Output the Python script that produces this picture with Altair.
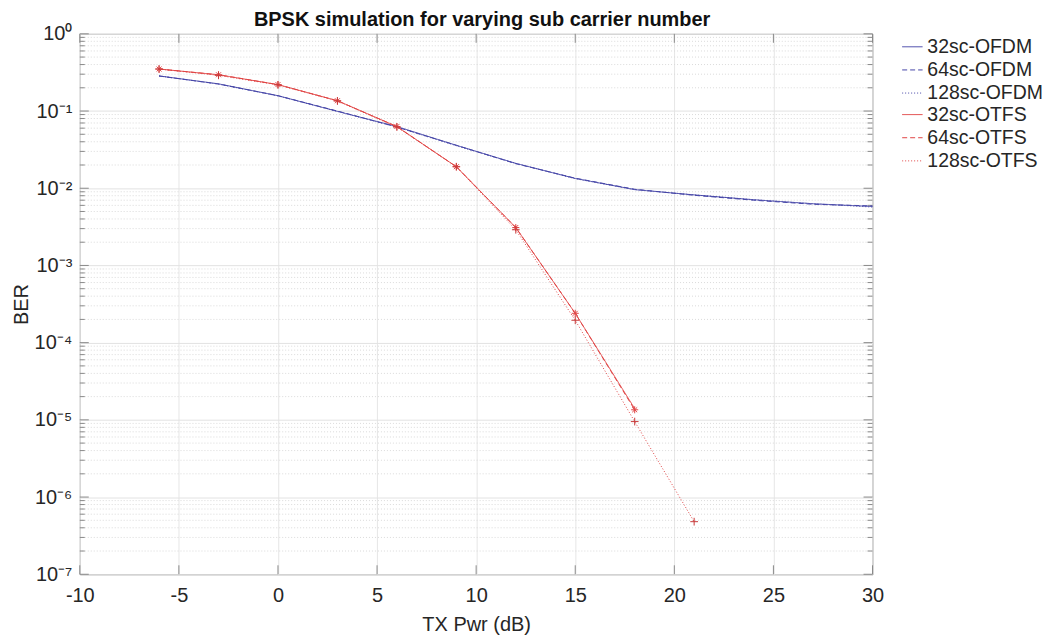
import altair as alt
import pandas as pd

# ---- data ----
snr_ofdm = [-6, -3, 0, 3, 6, 9, 12, 15, 18, 21, 24, 27, 30]
ber_ofdm32 = [0.285, 0.225, 0.158, 0.099, 0.063, 0.036, 0.021, 0.0134, 0.0096, 0.0082, 0.0071, 0.0063, 0.0058]
ber_ofdm64 = [0.284, 0.224, 0.158, 0.100, 0.062, 0.036, 0.0208, 0.0135, 0.0097, 0.0081, 0.0070, 0.0062, 0.0059]
ber_ofdm128 = [0.285, 0.223, 0.157, 0.099, 0.062, 0.0355, 0.021, 0.0133, 0.0096, 0.0082, 0.0071, 0.0063, 0.0057]

snr_otfs32 = [-6, -3, 0, 3, 6, 9, 12, 15, 18]
ber_otfs32 = [0.35, 0.295, 0.22, 0.136, 0.063, 0.019, 0.0031, 0.00024, 1.4e-5]
snr_otfs64 = [-6, -3, 0, 3, 6, 9, 12, 15, 18]
ber_otfs64 = [0.35, 0.295, 0.22, 0.136, 0.063, 0.019, 0.0031, 0.00024, 1.35e-5]
snr_otfs128 = [-6, -3, 0, 3, 6, 9, 12, 15, 18, 21]
ber_otfs128 = [0.35, 0.29, 0.218, 0.135, 0.062, 0.019, 0.0029, 0.000195, 9.5e-6, 4.8e-7]

ofdm_names = ["32sc-OFDM", "64sc-OFDM", "128sc-OFDM"]
otfs_names = ["32sc-OTFS", "64sc-OTFS", "128sc-OTFS"]
line_dashes = [[1, 0], [5, 3], [1, 2]]
BLUE = "#4646a8"
RED = "#e04444"
GRAY = "#8a8a8a"

x_ticks = [-10, -5, 0, 5, 10, 15, 20, 25, 30]
y_major = [1e-7, 1e-6, 1e-5, 1e-4, 1e-3, 1e-2, 1e-1, 1]
y_minor = [m * 10.0 ** e for e in range(-7, 0) for m in range(2, 10)]

def frame(names, xs_list, ys_list):
    rows = []
    for name, xs, ys in zip(names, xs_list, ys_list):
        for x, y in zip(xs, ys):
            rows.append({"series": name, "snr": x, "ber": y})
    return pd.DataFrame(rows)

ofdm_df = frame(ofdm_names, [snr_ofdm] * 3, [ber_ofdm32, ber_ofdm64, ber_ofdm128])
otfs_df = frame(otfs_names, [snr_otfs32, snr_otfs64, snr_otfs128], [ber_otfs32, ber_otfs64, ber_otfs128])
minor_df = pd.DataFrame({"v": y_minor})
major_df = pd.DataFrame({"v": y_major})
xt_df = pd.DataFrame({"t": x_ticks})

FONT = "Liberation Sans"
W, H = 795, 542
xscale = alt.Scale(domain=[-10, 30], nice=False, zero=False)
yscale = alt.Scale(type="log", domain=[1e-7, 1], nice=False)

sup = "['\u2070','\u207b\u00b9','\u207b\u00b2','\u207b\u00b3','\u207b\u2074','\u207b\u2075','\u207b\u2076','\u207b\u2077']"
y_label_expr = "'10' + " + sup + "[round(-log(datum.value)/LN10)]"
x_label_expr = "datum.value < 0 ? '-' + abs(datum.value) : '' + datum.value"

x_axis = alt.Axis(values=x_ticks, labelExpr=x_label_expr, title="TX Pwr (dB)", labelFontSize=20,
                  titleFontSize=20, titleFontWeight="normal", labelColor="#262626",
                  titleColor="#262626", domain=False, ticks=False, tickSize=0, labelFlush=False,
                  grid=True, gridColor="#e6e6e6", labelPadding=11, titlePadding=9)
y_axis = alt.Axis(values=y_major, labelExpr=y_label_expr, title="BER", labelFontSize=20,
                  titleFontSize=20, titleFontWeight="normal", labelColor="#262626",
                  titleColor="#262626", domain=False, ticks=False, tickSize=0, labelFlush=False,
                  grid=True, gridColor="#e2e2e2", labelPadding=8, titlePadding=3)

# minor (dotted) horizontal grid
minor_grid = alt.Chart(minor_df).mark_rule(color="#dadada", strokeDash=[1, 2], strokeWidth=1).encode(
    y=alt.Y("v:Q", scale=yscale, axis=y_axis),
)

# inward ticks (MATLAB style) on all four sides
minor_ticks_l = alt.Chart(minor_df).mark_rule(color=GRAY).encode(
    y=alt.Y("v:Q", scale=yscale), x=alt.value(0), x2=alt.value(5))
minor_ticks_r = alt.Chart(minor_df).mark_rule(color=GRAY).encode(
    y=alt.Y("v:Q", scale=yscale), x=alt.value(W - 5), x2=alt.value(W))
major_ticks_l = alt.Chart(major_df).mark_rule(color=GRAY).encode(
    y=alt.Y("v:Q", scale=yscale), x=alt.value(0), x2=alt.value(9))
major_ticks_r = alt.Chart(major_df).mark_rule(color=GRAY).encode(
    y=alt.Y("v:Q", scale=yscale), x=alt.value(W - 9), x2=alt.value(W))
x_ticks_b = alt.Chart(xt_df).mark_rule(color=GRAY).encode(
    x=alt.X("t:Q", scale=xscale, axis=x_axis), y=alt.value(H - 9), y2=alt.value(H))
x_ticks_t = alt.Chart(xt_df).mark_rule(color=GRAY).encode(
    x=alt.X("t:Q", scale=xscale), y=alt.value(0), y2=alt.value(9))

def legend(names, color, y0):
    return alt.Legend(title=None, orient="none", legendX=824, legendY=y0, padding=0,
                      labelFontSize=19.5, labelColor="#262626", labelFont=FONT,
                      symbolType="stroke", symbolSize=420, symbolStrokeWidth=1,
                      symbolStrokeColor=color, rowPadding=2.2, labelOffset=4, values=names)

ofdm_lines = alt.Chart(ofdm_df).mark_line(strokeWidth=1, color=BLUE).encode(
    x=alt.X("snr:Q", scale=xscale),
    y=alt.Y("ber:Q", scale=yscale),
    strokeDash=alt.StrokeDash("series:N", scale=alt.Scale(domain=ofdm_names, range=line_dashes),
                              legend=legend(ofdm_names, BLUE, 2)),
    detail="series:N",
    order=alt.Order("snr:Q"),
)

otfs_lines = alt.Chart(otfs_df).mark_line(strokeWidth=1, color=RED).encode(
    x=alt.X("snr:Q", scale=xscale),
    y=alt.Y("ber:Q", scale=yscale),
    strokeDash=alt.StrokeDash("series:N", scale=alt.Scale(domain=otfs_names, range=line_dashes),
                              legend=legend(otfs_names, RED, 70)),
    detail="series:N",
    order=alt.Order("snr:Q"),
)

asterisk = "M-1,0L1,0M0,-1L0,1M-0.7,-0.7L0.7,0.7M-0.7,0.7L0.7,-0.7"
plus = "M-1,0L1,0M0,-1L0,1"

pts64 = alt.Chart(otfs_df[otfs_df.series == "64sc-OTFS"]).mark_point(
    shape=asterisk, filled=False, size=50, strokeWidth=1, color=RED, opacity=1
).encode(x=alt.X("snr:Q", scale=xscale), y=alt.Y("ber:Q", scale=yscale))

pts128 = alt.Chart(otfs_df[otfs_df.series == "128sc-OTFS"]).mark_point(
    shape=plus, filled=False, size=60, strokeWidth=1, color="#c83a3a", opacity=1
).encode(x=alt.X("snr:Q", scale=xscale), y=alt.Y("ber:Q", scale=yscale))

chart = alt.layer(
    minor_grid, x_ticks_b, x_ticks_t, minor_ticks_l, minor_ticks_r, major_ticks_l, major_ticks_r,
    ofdm_lines, otfs_lines, pts64, pts128
).resolve_scale(strokeDash="independent").properties(
    width=W, height=H,
    autosize=alt.AutoSizeParams(type="none"),
    padding={"left": 72, "top": 25, "right": 176, "bottom": 60},
    title=alt.TitleParams("BPSK simulation for varying sub carrier number", fontSize=20,
                          font=FONT, fontWeight="bold", color="#111111", anchor="middle",
                          frame="group", offset=7, dy=13, dx=6),
).configure(font=FONT).configure_axis(labelFont=FONT, titleFont=FONT).configure_view(
    stroke=GRAY, strokeWidth=1
).configure_legend(labelFont=FONT)

chart.save("out.html", embed_options={"renderer": "svg", "actions": False})
